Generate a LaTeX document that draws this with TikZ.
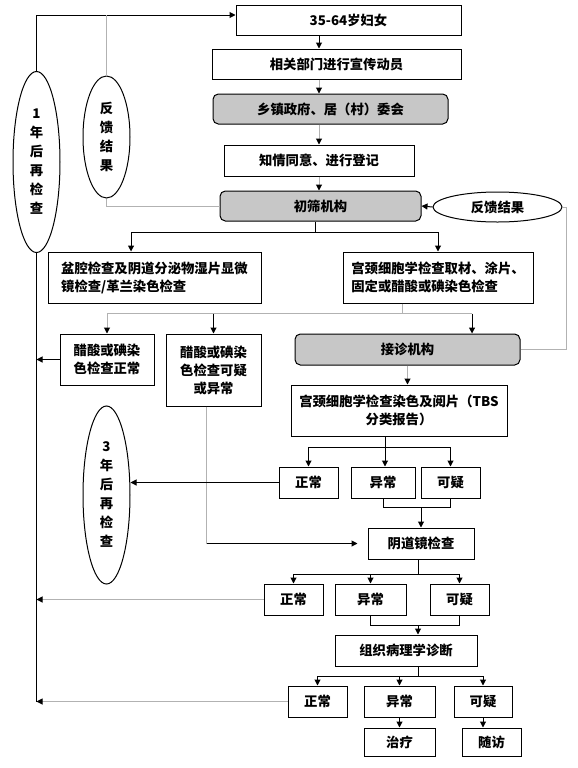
\documentclass[tikz,border=0pt]{standalone}
\usepackage{fontspec}
\setmainfont{Noto Sans CJK SC}
\usepackage{tikz}
\usetikzlibrary{positioning,arrows.meta,shapes.geometric}

\begin{document}
\begin{tikzpicture}[x=0.75pt, y=-0.75pt,
            every node/.append style = {font=\fontsize{10}{13.5}\selectfont\bfseries},
            box/.style = {draw, line width=0.75pt, inner sep=0pt, align=center},
            gbox/.style = {box, fill=black!22, rounded corners=4pt},
            sz/.style 2 args = {minimum width=#1*0.75pt, minimum height=#2*0.75pt},
            ell/.style = {draw, ellipse, line width=0.75pt, inner sep=0pt, align=center,
                          font=\fontsize{10}{14.25}\selectfont\bfseries},
            ln/.style = {line width=0.75pt},
            gl/.style = {ln, draw=black!30},
            arr/.style = {ln, -{Triangle[length=4.5pt,width=4.5pt,color=black]}}]
        \useasboundingbox (0,0) rectangle (578,768);
        % main column
        \node[box, sz={225}{30}] (women) at (348.5,20) {35-64岁妇女};
        \node[box, sz={249}{30}] (publ) at (336.5,64) {相关部门进行宣传动员};
        \node[gbox, sz={235}{30}] (town) at (330.5,109) {乡镇政府、居（村）委会};
        \node[box, sz={190}{31}] (consent) at (319,160.5) {知情同意、进行登记};
        \node[gbox, sz={201}{30}] (screen) at (320.5,206) {初筛机构};
        \node[ell, sz={129}{30}] (fbr) at (497.5,207) {反馈结果};
        % loop on the left
        \node[ell, sz={47}{181}] (yr1) at (36.5,162) {1\\年\\后\\再\\检\\查};
        \node[ell, sz={47}{122}] (fb1) at (106.5,137) {反\\馈\\结\\果};
        \node[ell, sz={47}{178}] (yr3) at (106.5,495) {3\\年\\后\\再\\检\\查};
        % first checks
        \node[box, sz={213}{51}, align=left] (pelvic) at (154.5,277.5)
            {盆腔检查及阴道分泌物湿片显微\\镜检查/革兰染色检查};
        \node[box, sz={190}{51}, align=left] (cyto) at (438,277.5)
            {宫颈细胞学检查取材、涂片、\\固定或醋酸或碘染色检查};
        \node[box, sz={94}{51}] (acn) at (107,359.5) {醋酸或碘染\\色检查正常};
        \node[box, sz={95}{72}] (acq) at (213.5,370) {醋酸或碘染\\色检查可疑\\或异常};
        \node[gbox, sz={225}{31}] (refer) at (407.5,349.5) {接诊机构};
        \node[box, sz={216}{51}] (tbs) at (399,410.5) {宫颈细胞学检查染色及阅片（TBS\\分类报告）};
        \node[box, sz={59}{31}] (tn) at (308.5,482.5) {正常};
        \node[box, sz={64}{31}] (ta) at (383,482.5) {异常};
        \node[box, sz={59}{31}] (tq) at (450.5,482.5) {可疑};
        % colposcopy
        \node[box, sz={106}{31}] (colpo) at (421,543.5) {阴道镜检查};
        \node[box, sz={59}{31}] (cn) at (293.5,599.5) {正常};
        \node[box, sz={71}{31}] (ca) at (370.5,599.5) {异常};
        \node[box, sz={59}{31}] (cq) at (459.5,599.5) {可疑};
        % histology
        \node[box, sz={142}{31}] (histo) at (406,650.5) {组织病理学诊断};
        \node[box, sz={59}{31}] (hn) at (317.5,701.5) {正常};
        \node[box, sz={71}{31}] (ha) at (399.5,701.5) {异常};
        \node[box, sz={58}{31}] (hq) at (483,701.5) {可疑};
        \node[box, sz={71}{28}] (treat) at (399.5,742) {治疗};
        \node[box, sz={59}{28}] (follow) at (491.5,742) {随访};

        % connectors
        \coordinate (top) at (36.5,15);
        \draw[arr] (yr1.north) |- ([yshift=3.75pt]women.west);
        \draw[gl] (fb1.north) -- (fb1.north |- top);
        \draw[gl] (fb1.south) |- (screen.west);
        \draw[arr] (women.south -| consent) -- (publ.north -| consent);
        \draw[gl, arr] (publ.south -| consent) -- (town.north -| consent);
        \draw[gl, arr] (town.south -| consent) -- (consent.north);
        \draw[gl, arr] (consent.south) -- (screen.north -| consent);
        \draw[arr] (fbr.west) -- (screen.east);
        \draw[gl] (fbr.east) -- ++(4,0) |- (refer.east);
        \draw[ln] ([xshift=-4pt]screen.south) -- ++(0,11) coordinate (j1);
        \draw[arr] (j1) -| ([xshift=-17.6pt]pelvic.north);
        \draw[arr] (j1) -| (cyto.north);
        \draw[gl] ([xshift=-27pt]cyto.south) -- ++(0,10) coordinate (j2);
        \coordinate (rin) at ([xshift=48.4pt]refer.north);
        \draw[gl] (j2 -| acn.north) -- (j2 -| rin);
        \draw[gl, arr] (j2 -| acn.north) -- (acn.north);
        \draw[arr] (j2 -| acq.north) -- (acq.north);
        \draw[arr] (j2 -| rin) -- (rin);
        % back to the start
        \draw[ln] (yr1.south) -- (yr1.south |- hn.west);
        \draw[arr] (acn.west) -- (acn.west -| yr1.south);
        \draw[gl, arr] (cn.west) -- (cn.west -| yr1.south);
        \draw[gl, arr] (hn.west) -- (hn.west -| yr1.south);
        \coordinate (aq) at ([xshift=-4.9pt]acq.south);
        \draw[gl] (aq) -- (aq |- colpo.west);
        \draw[arr, shorten >=7.5pt] (aq |- colpo.west) -- (colpo.west);
        \draw[gl, arr] (refer.south) -- (refer.south |- tbs.north);
        \draw[ln] ([xshift=-10.5pt]tbs.south) -- ++(0,11) coordinate (j4);
        \draw[arr] (j4) -| (tn.north);
        \draw[arr] (j4) -| (tq.north);
        \draw[arr] (j4) -- (j4 |- ta.north);
        \draw[arr] (tn.west) -- (tn.west -| yr3.east);
        \draw[ln] (ta.south) -- ++(0,9) coordinate (k1) -| (tq.south);
        \draw[arr] (k1 -| colpo.north) -- (colpo.north);
        \draw[ln] ([xshift=-2.25pt]colpo.south) -- ++(0,15) coordinate (j5);
        \draw[arr] (j5) -| (cn.north);
        \draw[arr] (j5) -| (cq.north);
        \draw[arr] (j5 -| ca.north) -- (ca.north);
        \draw[ln] (ca.south) -- ++(0,10) coordinate (k2) -| (cq.south);
        \draw[arr] (k2 -| j5) -- (j5 |- histo.north);
        \draw[ln] ([xshift=9pt]histo.south) -- ++(0,10) coordinate (j6);
        \draw[arr] (j6) -| (hn.north);
        \draw[arr] (j6) -| (hq.north);
        \draw[arr] (j6 -| ha.north) -- (ha.north);
        \draw[arr] (ha.south) -- (treat.north);
        \draw[arr] (hq.south) -- (hq.south |- follow.north);
\end{tikzpicture}
\end{document}
